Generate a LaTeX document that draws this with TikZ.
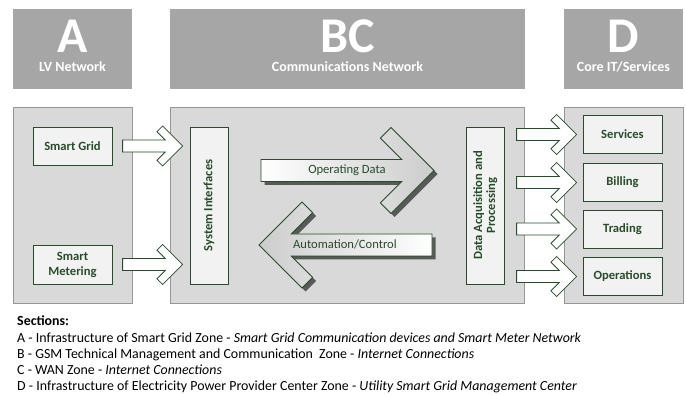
\documentclass[tikz,border=0pt]{standalone}
\usepackage{fontspec}
\setmainfont{Carlito}
\usetikzlibrary{calc}
\definecolor{hdrgray}{RGB}{166,166,166}
\definecolor{panelgray}{RGB}{217,217,217}
\definecolor{panelline}{RGB}{150,150,150}
\definecolor{boxfill}{RGB}{242,242,242}
\definecolor{darkgreen}{RGB}{38,76,42}
% chevron block arrow: style, direction (1 right / -1 left), tip, length, arm, thickness, half shaft
\newcommand{\chevarrow}[7]{%
  \pgfmathsetmacro\chd{#6/sqrt(2)}%
  \pgfmathsetmacro\chs{#5-\chd-#7}%
  \pgfmathsetmacro\chl{#4-2*\chd-#7}%
  \draw[#1] (#3) -- ++({-(#2)*(#5)},{-(#5)}) -- ++({-(#2)*\chd},\chd)
    -- ++({(#2)*\chs},\chs) -- ++({-(#2)*\chl},0) -- ++(0,{2*(#7)})
    -- ++({(#2)*\chl},0) -- ++({-(#2)*\chs},\chs) -- ++({(#2)*\chd},\chd) -- cycle;}
\begin{document}
\begin{tikzpicture}[x=1pt, y=-1pt,
    every node/.style={font=\fontsize{12.6}{14}\selectfont},
    header/.style={fill=hdrgray, minimum height=80pt, inner sep=0pt},
    letter/.style={text=white, font=\fontsize{50}{50}\selectfont\bfseries, inner sep=0pt, anchor=base},
    subtitle/.style={text=white, font=\fontsize{14}{15}\selectfont\bfseries, inner sep=0pt, anchor=base},
    panel/.style={draw=panelline, fill=panelgray, line width=0.8pt, minimum height=196pt, inner sep=0pt},
    unit/.style={draw=darkgreen, fill=boxfill, line width=0.8pt, text=darkgreen, align=center,
      font=\fontsize{12.6}{15}\selectfont\bfseries, minimum width=79pt, minimum height=38pt, inner sep=0pt},
    smallarrow/.style={draw=darkgreen, fill=white, line width=0.8pt},
    bigarrow/.style={draw=darkgreen, line width=0.8pt},
    shadowarrow/.style={fill=black!65, draw=none},
    flowlabel/.style={text=darkgreen, inner sep=0pt},
    section/.style={anchor=base west, inner sep=0pt, text=black, font=\fontsize{13.9}{15}\selectfont}
]
\useasboundingbox (0,0) rectangle (686,395);
% Headers
\node[header, minimum width=119pt] (hdrA) at (72.5,49) {};
\node[header, minimum width=355pt] (hdrBC) at (347.5,49) {};
\node[header, minimum width=119pt] (hdrD) at (623.5,49) {};
\node[letter] (ltrA) at (72.5,53) {A};
\node[letter] (ltrBC) at (347.5,53) {BC};
\node[letter] (ltrD) at (623.5,53) {D};
\node[subtitle] (subA) at (72.5,72) {LV Network};
\node[subtitle] (subBC) at (347.5,72) {Communications Network};
\node[subtitle] (subD) at (623.5,72) {Core IT/Services};
% Panels
\node[panel, minimum width=119pt] (panA) at (72.5,205) {};
\node[panel, minimum width=354pt] (panBC) at (347.5,205) {};
\node[panel, minimum width=119pt] (panD) at (623.5,205) {};
% LV network units
\node[unit] (grid) at (72.5,146) {Smart Grid};
\node[unit, minimum height=39pt] (meter) at (72.5,264.5) {Smart\\Metering};
% Communications units (rotated: north is the left side)
\node[unit, rotate=90, minimum width=157pt, minimum height=38pt] (sysif) at (209,205.5) {System Interfaces};
\node[unit, rotate=90, minimum width=157pt, minimum height=37.5pt, font=\fontsize{12.6}{13}\selectfont\bfseries] (daq) at (485.3,205.5) {Data Acquisition and\\Processing};
% Core IT units
\node[unit] (srv) at (622.5,134.5) {Services};
\node[unit] (bill) at (622.5,182.5) {Billing};
\node[unit] (trade) at (622.5,229) {Trading};
\node[unit] (ops) at (622.5,276.5) {Operations};
% Small arrows
\chevarrow{smallarrow}{1}{$(sysif.north|-grid)+(-7,0)$}{60}{20}{8}{6}
\chevarrow{smallarrow}{1}{$(sysif.north|-meter)+(-7,0)$}{60}{20}{8}{6}
\chevarrow{smallarrow}{1}{$(srv.west)+(-6,0)$}{60}{20}{8}{6}
\chevarrow{smallarrow}{1}{$(bill.west)+(-6,0)$}{60}{20}{8}{6}
\chevarrow{smallarrow}{1}{$(trade.west)+(-6,0)$}{60}{20}{8}{6}
\chevarrow{smallarrow}{1}{$(ops.west)+(-6,0)$}{60}{20}{8}{6}
% Big arrows
\coordinate (opTip) at (434,170.5);
\coordinate (acTip) at (259,245);
\chevarrow{shadowarrow}{1}{$(opTip)+(3.5,3.5)$}{173}{43}{15}{11}
\chevarrow{bigarrow, left color=white, right color=black!20}{1}{opTip}{173}{43}{15}{11}
\chevarrow{shadowarrow}{-1}{$(acTip)+(3.5,3.5)$}{173}{43}{15}{11}
\chevarrow{bigarrow, left color=black!20, right color=white}{-1}{acTip}{173}{43}{15}{11}
\node[flowlabel] (opData) at (347,170.5) {Operating Data};
\node[flowlabel] (autoCtrl) at (345,244.5) {Automation/Control};
% Sections
\node[section, font=\fontsize{13.9}{15}\selectfont\bfseries] (secHead) at (17,326) {Sections:};
\node[section] (secA) at (17,342.25) {A - Infrastructure of Smart Grid Zone - \textit{Smart Grid Communication devices and Smart Meter Network}};
\node[section] (secB) at (17,358.5) {B - GSM Technical Management and Communication~ Zone - \textit{Internet Connections}};
\node[section] (secC) at (17,374.75) {C - WAN Zone - \textit{Internet Connections}};
\node[section] (secD) at (17,391) {D - Infrastructure of Electricity Power Provider Center Zone - \textit{Utility Smart Grid Management Center}};
\end{tikzpicture}
\end{document}
